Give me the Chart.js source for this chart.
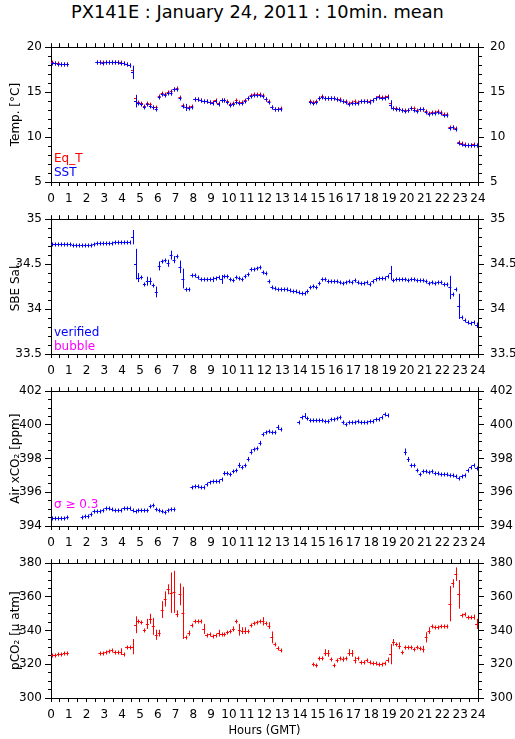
<!DOCTYPE html>
<html>
<head>
<meta charset="utf-8">
<script src="https://cdn.jsdelivr.net/npm/chart.js@4"></script>
<style>
  body { margin: 0; background: #fff; }
  #page { position: relative; width: 515px; height: 739px; overflow: hidden; font-family: "DejaVu Sans", sans-serif; color: #000; }
  canvas { position: absolute; left: 0; }
  .title { position: absolute; top: -0.5px; left: 0; width: 515px; text-align: center; font-size: 17.8px; line-height: 24px; white-space: nowrap; }
  .key { position: absolute; left: 54px; font-size: 12px; line-height: 14px; white-space: nowrap; }
</style>
</head>
<body>
<div id="page">
  <div class="title">PX141E : January 24, 2011 : 10min. mean</div>
  <canvas id="cTemp" width="515" height="172" style="top:34px"></canvas>
  <canvas id="cSal" width="515" height="172" style="top:206px"></canvas>
  <canvas id="cAir" width="515" height="172" style="top:378px"></canvas>
  <canvas id="cPco2" width="515" height="189" style="top:550px"></canvas>
  <div class="key" style="top:151px;color:#f00">Eq_T</div>
  <div class="key" style="top:165px;color:#00f">SST</div>
  <div class="key" style="top:325px;color:#00f">verified</div>
  <div class="key" style="top:339px;color:#f0f">bubble</div>
  <div class="key" style="top:497px;color:#f0f">σ ≥ 0.3</div>
</div>
<script>
//-------------------------------------------------------------
// Data: 10-minute means, one row per hour (6 slots), null = no data
//-------------------------------------------------------------
const SLOT = 1 / 6; // hours per slot

const eqT = [
  18.3, 18.25, 18.2, 18.15, 18.15, 18.15,
  null, null, null, null, null, null,
  null, null, null, 18.35, 18.35, 18.3,
  18.35, 18.35, 18.35, 18.35, 18.35, 18.3,
  18.25, 18.15, 18.05, 17.5, 14.3, 13.9,
  13.8, 13.5, 13.8, 13.7, 13.4, 13.3,
  14.6, 14.9, 14.8, 15.0, 15.1, 15.4,
  15.45, 14.5, 13.6, 13.4, 13.3, 13.5,
  14.25, 14.25, 14.15, 14.05, 14.05, 13.95,
  13.9, 14.15, 13.8, 14.15, 14.15, 14.0,
  13.7, 13.8, 14.1, 13.85, 13.85, 14.1,
  14.35, 14.7, 14.8, 14.8, 14.75, 14.7,
  14.25, 14.0, 13.4, 13.15, 13.15, 13.2,
  null, null, null, null, null, null,
  null, null, null, 14.0, 13.9, 14.0,
  14.35, 14.6, 14.4, 14.35, 14.35, 14.35,
  14.25, 14.2, 14.05, 14.0, 13.75, 13.85,
  14.0, 13.85, 14.05, 14.05, 14.05, 14.0,
  14.15, 14.3, 14.55, 14.45, 14.45, 14.55,
  13.8, 13.25, 13.2, 13.15, 13.05, 13.0,
  13.05, 13.25, 13.2, 13.0, 13.15, 13.1,
  12.9, 12.7, 12.75, 12.8, 12.9, 12.75,
  12.55, 12.55, 11.15, 11.15, 11.05, 9.5,
  9.3, 9.2, 9.15, 9.15, 9.2, 9.15,
];

const sst = [
  18.2, 18.2, 18.15, 18.1, 18.1, 18.1,
  null, null, null, null, null, null,
  null, null, null, 18.3, 18.3, 18.25,
  18.3, 18.3, 18.3, 18.3, 18.3, 18.25,
  18.2, 18.1, 18.0, 17.2, 14.0, 13.8,
  13.7, 13.3, 13.7, 13.5, 13.3, 13.1,
  14.5, 14.8, 14.7, 14.9, 14.9, 15.3,
  15.4, 14.3, 13.5, 13.3, 13.2, 13.4,
  14.2, 14.2, 14.1, 14.0, 14.0, 13.9,
  13.8, 14.0, 13.7, 14.1, 14.1, 13.9,
  13.6, 13.7, 13.9, 13.8, 13.8, 14.0,
  14.3, 14.6, 14.7, 14.7, 14.7, 14.6,
  14.2, 13.9, 13.3, 13.1, 13.1, 13.1,
  null, null, null, null, null, null,
  null, null, null, 13.9, 13.8, 13.9,
  14.3, 14.5, 14.3, 14.3, 14.3, 14.3,
  14.2, 14.1, 14.0, 13.9, 13.7, 13.8,
  13.8, 13.8, 14.0, 14.0, 14.0, 13.9,
  14.1, 14.3, 14.5, 14.4, 14.4, 14.5,
  13.6, 13.2, 13.1, 13.1, 13.0, 12.9,
  13.0, 13.2, 13.0, 12.9, 13.1, 13.1,
  12.8, 12.6, 12.7, 12.7, 12.8, 12.7,
  12.45, 12.5, 11.0, 11.1, 10.9, 9.35,
  9.2, 9.1, 9.1, 9.1, 9.1, 9.1,
];

const sstSd = [
  0, 0, 0, 0, 0, 0,
  0, 0, 0, 0, 0, 0,
  0, 0, 0, 0, 0, 0,
  0, 0, 0, 0, 0, 0,
  0, 0, 0, 0.75, 0.7, 0,
  0, 0, 0, 0, 0, 0.25,
  0, 0, 0, 0.2, 0.3, 0,
  0, 0, 0, 0.4, 0, 0,
  0, 0, 0, 0, 0, 0,
  0, 0, 0.2, 0, 0, 0,
  0, 0, 0, 0, 0, 0,
  0, 0, 0, 0, 0, 0,
  0, 0.15, 0, 0, 0, 0,
  0, 0, 0, 0, 0, 0,
  0, 0, 0, 0, 0, 0,
  0, 0, 0, 0, 0, 0,
  0, 0, 0, 0, 0, 0,
  0, 0, 0, 0, 0, 0,
  0, 0, 0, 0, 0, 0,
  0.5, 0, 0, 0, 0, 0,
  0, 0, 0, 0, 0, 0,
  0, 0, 0, 0, 0, 0,
  0, 0, 0.15, 0, 0.15, 0,
  0, 0, 0, 0, 0, 0,
];

const sal = [
  34.72, 34.72, 34.72, 34.72, 34.72, 34.72,
  34.72, 34.71, 34.71, 34.71, 34.71, 34.71,
  34.71, 34.71, 34.72, 34.73, 34.74, 34.74,
  34.74, 34.74, 34.74, 34.75, 34.75, 34.75,
  34.75, 34.75, 34.75, 34.80, 34.50, 34.35,
  34.36, 34.28, 34.31, 34.31, 34.27, 34.19,
  34.48, 34.54, 34.55, 34.51, 34.60, 34.55,
  34.59, 34.47, 34.34, 34.22, 34.22, 34.38,
  34.38, 34.36, 34.34, 34.34, 34.34, 34.33,
  34.33, 34.35, 34.36, 34.33, 34.37, 34.37,
  34.33, 34.32, 34.36, 34.35, 34.33, 34.37,
  34.39, 34.45, 34.45, 34.46, 34.47, 34.41,
  34.40, 34.31, 34.25, 34.23, 34.22, 34.22,
  34.22, 34.22, 34.21, 34.20, 34.20, 34.19,
  34.18, 34.18, 34.20, 34.24, 34.26, 34.25,
  34.29, 34.33, 34.34, 34.31, 34.31, 34.31,
  34.31, 34.30, 34.29, 34.30, 34.31, 34.30,
  34.32, 34.30, 34.29, 34.29, 34.30, 34.28,
  34.31, 34.33, 34.35, 34.35, 34.35, 34.37,
  34.40, 34.32, 34.33, 34.33, 34.34, 34.33,
  34.32, 34.33, 34.34, 34.32, 34.32, 34.32,
  34.31, 34.29, 34.30, 34.29, 34.30, 34.30,
  34.28, 34.28, 34.24, 34.17, 34.22, 34.03,
  33.91, 33.88, 33.86, 33.85, 33.86, 33.82,
];

const salSd = [
  0, 0, 0, 0, 0, 0,
  0, 0, 0, 0, 0, 0,
  0, 0, 0, 0, 0, 0,
  0, 0, 0, 0, 0, 0,
  0, 0, 0, 0.08, 0.17, 0.05,
  0, 0, 0.05, 0.04, 0, 0.06,
  0.05, 0, 0, 0.04, 0.05, 0.04,
  0, 0.07, 0.11, 0, 0, 0,
  0, 0, 0, 0, 0, 0,
  0.03, 0, 0, 0.05, 0, 0,
  0, 0, 0, 0, 0, 0,
  0, 0, 0, 0, 0, 0,
  0, 0, 0, 0, 0, 0,
  0, 0, 0, 0, 0, 0,
  0, 0, 0, 0, 0, 0,
  0, 0, 0, 0, 0, 0,
  0, 0, 0, 0, 0, 0,
  0, 0, 0, 0, 0, 0,
  0, 0, 0, 0, 0, 0,
  0.08, 0, 0, 0, 0, 0,
  0, 0, 0, 0, 0, 0,
  0, 0, 0, 0, 0, 0,
  0, 0, 0.13, 0, 0, 0.14,
  0, 0, 0, 0, 0, 0.03,
];

const xco2 = [
  394.5, 394.45, 394.45, 394.5, 394.5, 394.55,
  null, null, null, null, 394.55, 394.6,
  394.6, 394.7, 394.9, 394.9, 394.9, 394.95,
  395.05, 395.05, 395.0, 394.95, 394.95, 394.95,
  395.05, 395.05, 395.05, 394.95, 394.9, 394.95,
  394.95, 394.95, 394.95, 395.2, 395.25, 395.0,
  394.95, 394.9, 394.85, 394.95, 395.0, 395.0,
  null, null, null, null, null, 396.3,
  396.4, 396.4, 396.3, 396.3, 396.5, 396.6,
  396.7, 396.7, 396.7, 396.8, 397.15, 397.15,
  397.1, 397.25, 397.35, 397.6, 397.5, 397.6,
  398.0, 398.4, 398.55, 398.6, 398.95, 399.45,
  399.6, 399.65, 399.6, 399.55, 399.85, 399.75,
  null, null, null, null, null, 400.15,
  400.45, 400.55, 400.4, 400.3, 400.3, 400.3,
  400.3, 400.3, 400.25, 400.25, 400.35, 400.35,
  400.4, 400.45, 400.15, 400.05, 400.15, 400.2,
  400.2, 400.25, 400.2, 400.2, 400.2, 400.25,
  400.25, 400.35, 400.35, 400.45, 400.65, 400.6,
  null, null, null, null, null, 398.4,
  397.95, 397.6, 397.6, 397.35, 397.1, 397.25,
  397.25, 397.2, 397.25, 397.15, 397.15, 397.1,
  397.1, 397.1, 397.05, 397.0, 396.95, 396.85,
  396.95, 397.0, 397.3, 397.5, 397.6, 397.45,
];

const xco2Sd = [
  0, 0, 0, 0, 0, 0,
  0, 0, 0, 0, 0, 0,
  0, 0, 0, 0, 0, 0,
  0, 0, 0, 0, 0, 0,
  0, 0, 0, 0, 0, 0,
  0, 0, 0, 0, 0, 0,
  0, 0, 0, 0, 0, 0,
  0, 0, 0, 0, 0, 0,
  0, 0, 0, 0, 0, 0,
  0, 0, 0, 0, 0.1, 0,
  0, 0, 0, 0.15, 0, 0.1,
  0.1, 0.15, 0.1, 0, 0.1, 0,
  0, 0, 0, 0, 0.15, 0,
  0, 0, 0, 0, 0, 0,
  0, 0.15, 0, 0, 0, 0,
  0, 0, 0, 0, 0, 0,
  0, 0, 0.1, 0, 0, 0,
  0, 0, 0, 0, 0, 0,
  0, 0, 0, 0, 0, 0,
  0, 0, 0, 0, 0, 0.2,
  0.15, 0, 0.1, 0, 0, 0,
  0, 0, 0, 0, 0, 0,
  0, 0, 0, 0, 0, 0,
  0, 0, 0, 0, 0.1, 0,
];

const pco2 = [
  325.5, 325.5, 326, 326, 326.5, 326.5,
  null, null, null, null, null, null,
  null, null, null, null, 326.7, 327,
  327.5, 328, 328.4, 327.5, 327.5, 327.5,
  326, 330.5, 330.5, 330.5, 343.5, 345.5,
  345, 340.5, 344, 347, 342.5, 337.5,
  338.5, 352.5, 358.8, 364.5, 362.5, 363,
  350, 361.5, 350.5, 336, 338.5, 343.5,
  345.5, 345.8, 345.5, 341, 337.5, 338,
  337, 337.5, 338.5, 338, 338, 339,
  339.5, 341, 345.5, 340.5, 340, 340,
  340, 343.5, 344.5, 345, 345.5, 345.5,
  344.5, 343, 336, 332, 329.5, 328.5,
  null, null, null, null, null, null,
  null, null, null, null, 320, 319.5,
  324, 324, 327, 326.5, 323, 319.8,
  322.5, 323.5, 323, 323.5, 327, 326.5,
  322.5, 324, 321.5, 321.5, 322.5, 321.5,
  321, 320.5, 320, 320, 320.5, 322.5,
  326, 333, 332, 331, 327.5, 330,
  330, 330.5, 329, 330, 329.5, 329,
  336, 340, 343, 342, 342, 343,
  342.5, 342.5, 356, 368, 373.5, 361.5,
  349.5, 350, 348, 348, 348, 344,
];

const pco2Sd = [
  0, 0, 0, 0, 0, 0,
  0, 0, 0, 0, 0, 0,
  0, 0, 0, 0, 0, 0,
  0, 0, 0.8, 0, 0, 2,
  0, 0, 0, 4.5, 5, 0,
  0, 0, 3, 3, 5, 3,
  2, 5, 4.5, 3, 12, 12.5,
  2, 6.5, 15.5, 1, 1.5, 0,
  0, 0, 0, 3, 0, 0,
  0, 0, 2, 0, 0, 0,
  0, 1.5, 0, 3.5, 2, 2,
  0, 0, 0, 0, 0, 2.5,
  0, 2, 3.5, 0, 0, 0,
  0, 0, 0, 0, 0, 0,
  0, 0, 0, 0, 0, 0,
  0, 0, 2, 2, 0, 0,
  0, 0, 1.5, 0, 2, 2,
  2, 0, 0, 0, 0, 0,
  0, 0, 0, 0, 0, 1.5,
  6, 2, 0, 2, 0, 0,
  0, 0, 0, 0, 0, 2,
  3, 2, 0, 0, 0, 0,
  0, 0, 10.5, 2.5, 4, 8.5,
  0, 0, 0, 0, 1.5, 3,
];

//-------------------------------------------------------------
// Helpers
//-------------------------------------------------------------
const FONT = { family: "DejaVu Sans", size: 12 };
const BLUE = "#0000ff";
const RED = "#ff0000";

function toPoints(values, sd) {
  return values
    .map((v, i) => ({ x: (i + 0.5) * SLOT, y: v, sd: sd ? sd[i] : 0 }))
    .filter((p) => p.y !== null);
}

function isMultiple(v, step) {
  const r = v / step;
  return Math.abs(r - Math.round(r)) < 1e-6;
}

// draws each 10-min mean as a cross: horizontal = time slot, vertical = +- sd
const crossPlugin = {
  id: "crosses",
  afterDatasetsDraw(chart) {
    const { ctx, chartArea: a, scales } = chart;
    const x = scales.x, y = scales.y;
    ctx.save();
    ctx.beginPath();
    ctx.rect(a.left, a.top, a.right - a.left, a.bottom - a.top);
    ctx.clip();
    ctx.lineWidth = 1;
    chart.data.datasets.forEach((ds, i) => {
      const meta = chart.getDatasetMeta(i);
      ctx.strokeStyle = ds.borderColor;
      ctx.beginPath();
      meta.data.forEach((el, j) => {
        const p = ds.data[j];
        const px = Math.round(el.x) + 0.5;
        const py = Math.round(el.y) + 0.5;
        const x0 = x.getPixelForValue(p.x - SLOT / 2);
        const x1 = x.getPixelForValue(p.x + SLOT / 2);
        const yHi = Math.min(y.getPixelForValue(p.y + p.sd), py - 2);
        const yLo = Math.max(y.getPixelForValue(p.y - p.sd), py + 2);
        ctx.moveTo(x0, py);
        ctx.lineTo(x1, py);
        ctx.moveTo(px, yHi);
        ctx.lineTo(px, yLo);
      });
      ctx.stroke();
    });
    ctx.restore();
  },
};

function xScale(position, last) {
  return {
    type: "linear",
    position,
    min: 0,
    max: 24,
    ticks: {
      display: position === "bottom",
      stepSize: 0.5,
      autoSkip: false,
      maxRotation: 0,
      padding: 6,
      color: "#000",
      font: FONT,
      callback: (v) => (isMultiple(v, 1) ? String(Math.round(v)) : ""),
    },
    grid: { drawOnChartArea: false, tickLength: 4, tickColor: "#000" },
    border: { color: "#000", width: 1 },
    title: {
      display: !!last,
      text: "Hours (GMT)",
      color: "#000",
      font: { family: "DejaVu Sans", size: 11.5 },
      padding: { top: 0, bottom: 1 },
    },
    afterFit: (s) => {
      s.height = position === "top" ? 10 : last ? 41 : 24;
    },
  };
}

function yScale(position, cfg) {
  const left = position === "left";
  return {
    type: "linear",
    position,
    min: cfg.min,
    max: cfg.max,
    ticks: {
      stepSize: cfg.step,
      autoSkip: false,
      padding: left ? 3 : 6,
      color: "#000",
      font: FONT,
      callback: (v) => (isMultiple(v, cfg.major) ? String(+v.toFixed(1)) : ""),
    },
    grid: {
      drawOnChartArea: false,
      tickLength: 6,
      tickColor: "#000",
      tickBorderDash: (c) =>
        isMultiple(c.tick.value, cfg.major) ? [] : left ? [0, 3, 10] : [3, 10],
    },
    border: { color: "#000", width: 1 },
    title: {
      display: left,
      text: cfg.title,
      color: "#000",
      font: FONT,
      padding: { top: 9, bottom: 0 },
    },
    afterFit: (s) => {
      s.width = left ? 51 : 37;
    },
  };
}

function makePanel(id, cfg, series, last) {
  return new Chart(document.getElementById(id), {
    type: "scatter",
    data: {
      datasets: series.map((s) => ({
        data: toPoints(s.values, s.sd),
        borderColor: s.color,
        backgroundColor: s.color,
        pointRadius: 0,
        showLine: false,
        xAxisID: "x",
        yAxisID: "y",
      })),
    },
    options: {
      responsive: false,
      animation: false,
      devicePixelRatio: 1,
      layout: { padding: 0 },
      plugins: { legend: { display: false }, tooltip: { enabled: false } },
      scales: {
        x: xScale("bottom", last),
        xTop: xScale("top"),
        y: yScale("left", cfg),
        yRight: yScale("right", cfg),
      },
    },
    plugins: [crossPlugin],
  });
}

//-------------------------------------------------------------
// Panels
//-------------------------------------------------------------
makePanel("cTemp", { min: 5, max: 20, step: 1, major: 5, title: "Temp. [°C]" }, [
  { values: eqT, sd: null, color: RED },
  { values: sst, sd: sstSd, color: BLUE },
]);

makePanel("cSal", { min: 33.5, max: 35, step: 0.1, major: 0.5, title: "SBE Sal." }, [
  { values: sal, sd: salSd, color: BLUE },
]);

makePanel("cAir", { min: 394, max: 402, step: 0.5, major: 2, title: "Air xCO₂ [ppm]" }, [
  { values: xco2, sd: xco2Sd, color: BLUE },
]);

makePanel("cPco2", { min: 300, max: 380, step: 5, major: 20, title: "pCO₂ [μ atm]" }, [
  { values: pco2, sd: pco2Sd, color: RED },
], true);
</script>
</body>
</html>
